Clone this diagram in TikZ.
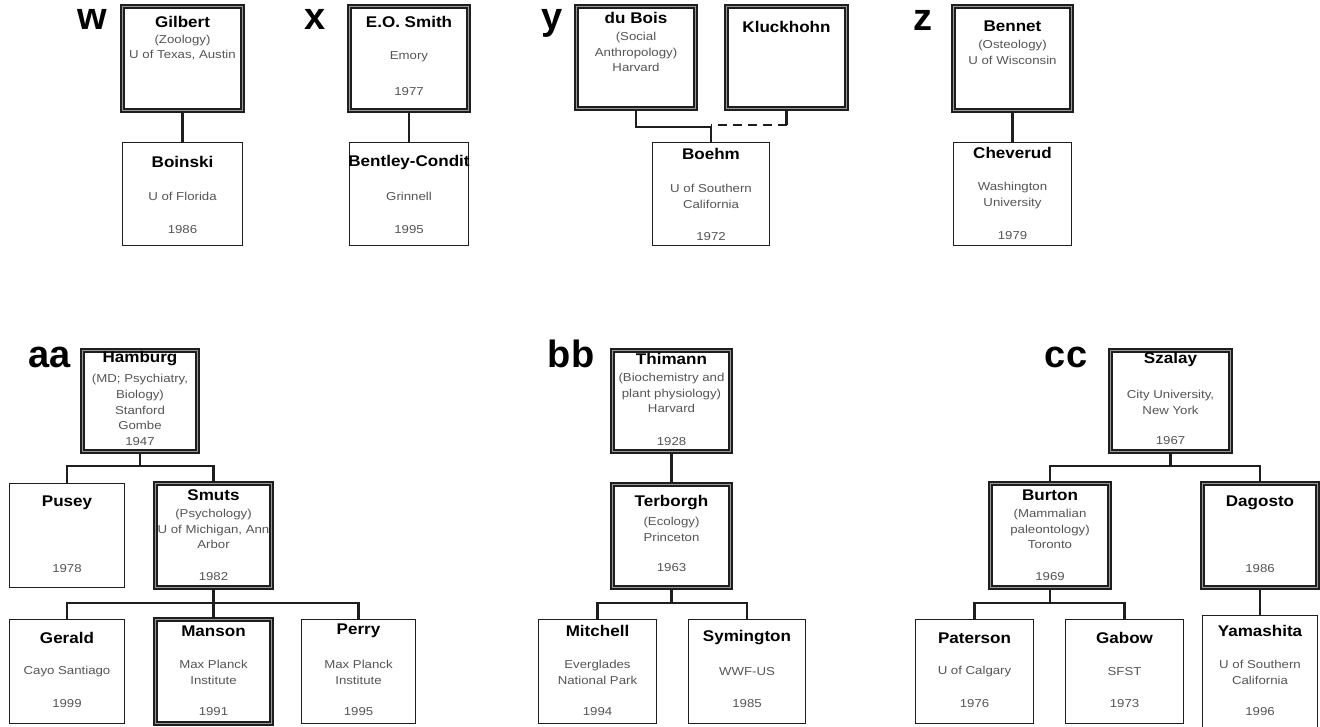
\documentclass[tikz,border=0pt]{standalone}
\usepackage{fontspec}
\setmainfont{Liberation Sans}
\newfontfamily\namefont[FakeStretch=1.1]{Liberation Sans}
\newfontfamily\infofont[FakeStretch=1.15]{Liberation Sans}
\definecolor{ink}{HTML}{1E1E1E}
\definecolor{infogray}{HTML}{555555}

% box: name, style, x1, y1, x2, y2 (pixel coordinates, y downward)
\newcommand\whobox[6]{%
  \node[#2, minimum width={#5-#3-3}, minimum height={#6-#4-3}] (#1)
    at ({(#3+#5)/2},{(#4+#6)/2}) {};}
% bold name line inside a box
\newcommand\whoname[3]{\node[namestyle] (#1-name) at (#1 |- 0,#2) {#3};}
% grey information lines inside a box
\newcommand\whoinfo[4]{\node[infostyle] (#1-#2) at (#1 |- 0,#3) {#4};}

\tikzset{
  single/.style={draw=ink, line width=1.7pt, fill=white, inner sep=0pt},
  double box/.style={draw=ink, line width=1.3pt, double=black!40,
    double distance=1.7pt, fill=white, inner sep=0pt},
  namestyle/.style={font=\namefont\bfseries\fontsize{15.5}{18}\selectfont,
    text=black, inner sep=0pt},
  infostyle/.style={font=\infofont\fontsize{11.5}{15.8}\selectfont,
    text=infogray, inner sep=0pt, align=center},
  tag/.style={font=\bfseries\fontsize{38}{40}\selectfont, anchor=base,
    inner sep=0pt, text height=20pt, text depth=0pt},
  link/.style={draw=ink, line width=2.2pt},
}

\begin{document}
\begin{tikzpicture}[x=1pt, y=-1pt]
\useasboundingbox[fill=white] (0,0) rectangle (1320,726);

% ---------------- upper row ----------------
\node[tag] (tag-w) at (92,29) {w};
\node[tag] (tag-x) at (315,29) {x};
\node[tag] (tag-y) at (552,29) {y};
\node[tag] (tag-z) at (923,30) {z};

\whobox{gilbert}{double box}{121}{5}{244}{112}
\whobox{boinski}{single}{121}{141}{244}{247}
\whobox{smith}{double box}{348}{5}{470}{112}
\whobox{bentley}{single}{348}{141}{470}{247}
\whobox{dubois}{double box}{575}{5}{697}{110}
\whobox{kluck}{double box}{725}{5}{848}{110}
\whobox{boehm}{single}{651}{141}{771}{247}
\whobox{bennet}{double box}{952}{5}{1073}{112}
\whobox{cheverud}{single}{952}{141}{1073}{247}

\whoname{gilbert}{22}{Gilbert}
\whoinfo{gilbert}{a}{47.5}{(Zoology)\\U of Texas, Austin}
\whoname{boinski}{162}{Boinski}
\whoinfo{boinski}{a}{196}{U of Florida}
\whoinfo{boinski}{b}{230}{1986}

\whoname{smith}{22}{E.O. Smith}
\whoinfo{smith}{a}{57}{Emory}
\whoinfo{smith}{b}{92}{1977}
\whoname{bentley}{162}{Bentley-Condit}
\whoinfo{bentley}{a}{196}{Grinnell}
\whoinfo{bentley}{b}{230}{1995}

\whoname{dubois}{18}{du Bois}
\whoinfo{dubois}{a}{52}{(Social\\Anthropology)\\Harvard}
\whoname{kluck}{27}{Kluckhohn}
\whoname{boehm}{154}{Boehm}
\whoinfo{boehm}{a}{196}{U of Southern\\California}
\whoinfo{boehm}{b}{237}{1972}

\whoname{bennet}{26}{Bennet}
\whoinfo{bennet}{a}{52}{(Osteology)\\U of Wisconsin}
\whoname{cheverud}{153}{Cheverud}
\whoinfo{cheverud}{a}{195.5}{Washington\\University}
\whoinfo{cheverud}{b}{236}{1979}

\draw[link] (gilbert.south) -- (boinski.north);
\draw[link] (smith.south) -- (bentley.north);
\draw[link] (bennet.south) -- (cheverud.north);
\draw[link] (dubois.south) |- ([yshift=15pt]boehm.north) -- (boehm.north);
\draw[link] (kluck.south) -- ++(0,16) coordinate (kj);
\draw[link, dash pattern=on 9pt off 6pt] (kj) -- (kj -| boehm.north);

% ---------------- lower row ----------------
\node[tag] (tag-aa) at (50,367) {aa};
\node[tag] (tag-bb) at (571,367) {bb};
\node[tag] (tag-cc) at (1066,367) {cc};

\whobox{hamburg}{double box}{81}{349}{199}{453}
\whobox{pusey}{single}{8}{482}{126}{589}
\whobox{smuts}{double box}{154}{482}{273}{589}
\whobox{gerald}{single}{8}{618}{126}{725}
\whobox{manson}{double box}{154}{618}{273}{725}
\whobox{perry}{single}{300}{618}{417}{725}

\whobox{thimann}{double box}{611}{349}{732}{453}
\whobox{terborgh}{double box}{611}{483}{732}{589}
\whobox{mitchell}{single}{537}{618}{658}{725}
\whobox{symington}{single}{687}{618}{807}{725}

\whobox{szalay}{double box}{1109}{349}{1232}{453}
\whobox{burton}{double box}{989}{482}{1111}{589}
\whobox{dagosto}{double box}{1201}{482}{1319}{589}
\whobox{paterson}{single}{914}{618}{1035}{725}
\whobox{gabow}{single}{1064}{618}{1185}{725}
\whobox{yamashita}{single}{1201}{614}{1319}{729}

\whoname{hamburg}{359}{Hamburg}
\whoinfo{hamburg}{a}{410}{(MD; Psychiatry,\\Biology)\\Stanford\\Gombe\\1947}
\whoname{pusey}{503}{Pusey}
\whoinfo{pusey}{b}{569}{1978}
\whoname{smuts}{495}{Smuts}
\whoinfo{smuts}{a}{529}{(Psychology)\\U of Michigan, Ann\\Arbor}
\whoinfo{smuts}{b}{577}{1982}
\whoname{gerald}{638}{Gerald}
\whoinfo{gerald}{a}{672}{Cayo Santiago}
\whoinfo{gerald}{b}{704}{1999}
\whoname{manson}{631}{Manson}
\whoinfo{manson}{a}{672}{Max Planck\\Institute}
\whoinfo{manson}{b}{712}{1991}
\whoname{perry}{631}{Perry}
\whoinfo{perry}{a}{672}{Max Planck\\Institute}
\whoinfo{perry}{b}{712}{1995}

\whoname{thimann}{359}{Thimann}
\whoinfo{thimann}{a}{393}{(Biochemistry and\\plant physiology)\\Harvard}
\whoinfo{thimann}{b}{442}{1928}
\whoname{terborgh}{503}{Terborgh}
\whoinfo{terborgh}{a}{529.5}{(Ecology)\\Princeton}
\whoinfo{terborgh}{b}{568}{1963}
\whoname{mitchell}{631}{Mitchell}
\whoinfo{mitchell}{a}{672}{Everglades\\National Park}
\whoinfo{mitchell}{b}{712}{1994}
\whoname{symington}{638}{Symington}
\whoinfo{symington}{a}{672}{WWF-US}
\whoinfo{symington}{b}{704}{1985}

\whoname{szalay}{359}{Szalay}
\whoinfo{szalay}{a}{402}{City University,\\New York}
\whoinfo{szalay}{b}{441}{1967}
\whoname{burton}{495}{Burton}
\whoinfo{burton}{a}{529}{(Mammalian\\paleontology)\\Toronto}
\whoinfo{burton}{b}{577}{1969}
\whoname{dagosto}{503}{Dagosto}
\whoinfo{dagosto}{b}{569}{1986}
\whoname{paterson}{638}{Paterson}
\whoinfo{paterson}{a}{672}{U of Calgary}
\whoinfo{paterson}{b}{704}{1976}
\whoname{gabow}{638}{Gabow}
\whoinfo{gabow}{a}{672}{SFST}
\whoinfo{gabow}{b}{704}{1973}
\whoname{yamashita}{631}{Yamashita}
\whoinfo{yamashita}{a}{672}{U of Southern\\California}
\whoinfo{yamashita}{b}{712}{1996}

\draw[link] (hamburg.south) -- ++(0,14) -| (pusey.north);
\draw[link] (hamburg.south) -- ++(0,14) -| (smuts.north);
\draw[link] (smuts.south) -- ++(0,15) -| (gerald.north);
\draw[link] (smuts.south) -- (manson.north);
\draw[link] (smuts.south) -- ++(0,15) -| (perry.north);

\draw[link] (thimann.south) -- (terborgh.north);
\draw[link] (terborgh.south) -- ++(0,15) -| (mitchell.north);
\draw[link] (terborgh.south) -- ++(0,15) -| (symington.north);

\draw[link] (szalay.south) -- ++(0,14) -| (burton.north);
\draw[link] (szalay.south) -- ++(0,14) -| (dagosto.north);
\draw[link] (burton.south) -- ++(0,15) -| (paterson.north);
\draw[link] (burton.south) -- ++(0,15) -| (gabow.north);
\draw[link] (dagosto.south) -- (yamashita.north);
\end{tikzpicture}
\end{document}
